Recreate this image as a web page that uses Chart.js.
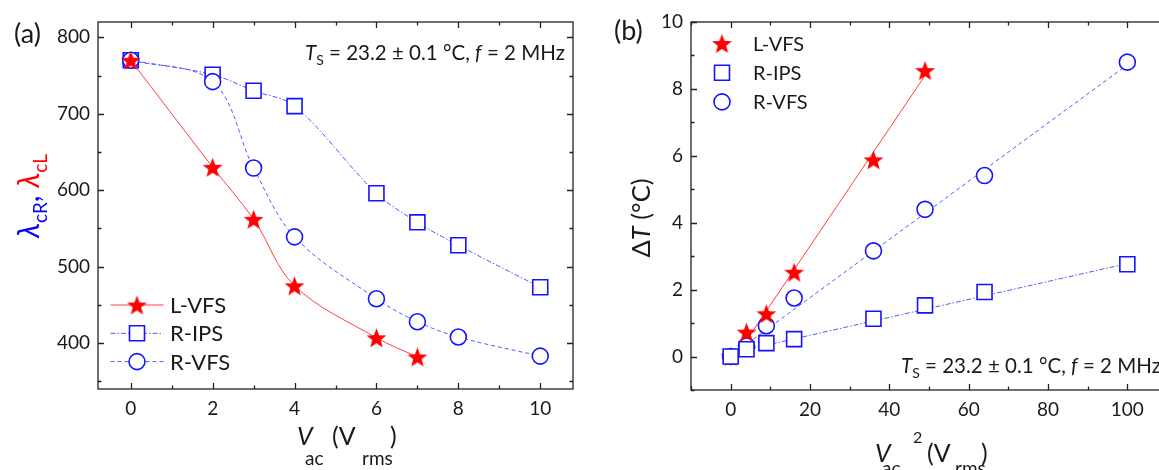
<!DOCTYPE html>
<html>
<head>
<meta charset="utf-8">
<script src="https://cdn.jsdelivr.net/npm/chart.js@4.4.1/dist/chart.umd.min.js"></script>
<style>
  html, body { margin: 0; padding: 0; background: #fff; overflow: hidden; }
  #wrap { position: relative; width: 1159px; height: 470px; overflow: hidden;
          font-family: Lato, "Open Sans", sans-serif; color: #1a1a1a; }
  canvas { position: absolute; top: 0; }
  #ca { left: 0; }
  #cb { left: 580px; }
  .t { position: absolute; white-space: nowrap; line-height: 1.2; }
  .t span, .t i { position: absolute; white-space: nowrap; line-height: 1.2; }
  .lo { position: relative; }
  .rt { position: absolute; white-space: nowrap; line-height: 1.2;
        transform: translate(-50%, -50%) rotate(-90deg); }
  .rt .lo { position: relative; }
</style>
</head>
<body>
<div id="wrap">
  <canvas id="ca" width="580" height="470"></canvas>
  <canvas id="cb" width="600" height="470"></canvas>

  <!-- panel tags -->
  <div style="position:absolute;left:14px;top:17px;font-size:27px;line-height:1.2">(a)</div>
  <div style="position:absolute;left:614px;top:14px;font-size:27px;line-height:1.2">(b)</div>

  <!-- measurement conditions -->
  <div style="position:absolute;left:305px;top:40px;font-size:20.5px;line-height:1.2;white-space:nowrap"><i>T</i><span class="lo" style="font-size:14px;top:5px">S</span> = 23.2 ± 0.1 °C, <i>f</i> = 2 MHz</div>
  <div style="position:absolute;left:901px;top:353px;font-size:20.5px;line-height:1.2;white-space:nowrap"><i>T</i><span class="lo" style="font-size:14px;top:5px">S</span> = 23.2 ± 0.1 °C, <i>f</i> = 2 MHz</div>

  <!-- x-axis titles -->
  <div class="t" style="left:0;top:0">
    <i style="left:297px;top:420px;font-size:25px">V</i><span style="left:305px;top:447px;font-size:19px">ac</span><span style="left:332px;top:420px;font-size:25px">(V</span><span style="left:362px;top:447px;font-size:19px">rms</span><span style="left:390px;top:420px;font-size:25px">)</span>
  </div>
  <div class="t" style="left:0;top:0">
    <i style="left:875px;top:437px;font-size:25px">V</i><span style="left:882px;top:457px;font-size:19px">ac</span><span style="left:913px;top:427px;font-size:16px">2</span><span style="left:927px;top:437px;font-size:25px">(V</span><span style="left:955px;top:457px;font-size:19px">rms</span><span style="left:981px;top:437px;font-size:25px">)</span>
  </div>

  <!-- y-axis titles -->
  <div class="rt" style="left:27px;top:196px;font-size:30px"><span style="color:#0000ff"><i>λ</i><span class="lo" style="font-size:19px;top:8px">cR</span>,</span> <span style="color:#ff0000"><i>λ</i><span class="lo" style="font-size:19px;top:8px">cL</span></span></div>
  <div class="rt" style="left:640px;top:218px;font-size:25.5px">Δ<i>T</i> (°C)</div>
</div>

<script>
// ---- panel (a): critical wavelength vs. applied voltage ----
const vacL = [0, 2, 3, 4, 6, 7];
const lambdaL_VFS = [770, 630, 562, 475, 407, 382];
const vacR = [0, 2, 3, 4, 6, 7, 8, 10];
const lambdaR_IPS = [770, 751, 730, 710, 596, 558, 528, 473];
const lambdaR_VFS = [770, 742, 629, 539, 458, 428, 408, 383];
const xTicksA = [0, 2, 4, 6, 8, 10];
const yTicksA = [400, 500, 600, 700, 800];
const rangeA = { xMin: -0.8, xMax: 10.8, yMin: 340, yMax: 820 };

// ---- panel (b): temperature rise vs. squared voltage ----
const vac2L = [0, 4, 9, 16, 36, 49];
const dT_L_VFS = [0, 0.73, 1.28, 2.52, 5.88, 8.55];
const vac2R = [0, 4, 9, 16, 36, 49, 64, 100];
const dT_R_IPS = [0, 0.22, 0.4, 0.52, 1.13, 1.53, 1.93, 2.76];
const dT_R_VFS = [0, 0.32, 0.92, 1.75, 3.16, 4.4, 5.41, 8.8];
// straight-line fits (end points)
const fitL_x = [0, 49];
const fitL_y = [-0.22, 8.4];
const fitR_x = [0, 100];
const fitIPS_y = [0.1, 2.78];
const fitVFS_y = [0.02, 8.72];
const xTicksB = [0, 20, 40, 60, 80, 100];
const yTicksB = [0, 2, 4, 6, 8, 10];
const rangeB = { xMin: -10, xMax: 110, yMin: -1, yMax: 10 };

const seriesNames = ['L-VFS', 'R-IPS', 'R-VFS'];

const RED = '#ff0000', BLUE = '#1414ff';
const LINE_RED = '#ff4040', LINE_BLUE = '#5858ff';
const INK = '#1a1a1a';
const FONT = 'Lato, "Open Sans", sans-serif';

Chart.defaults.font.family = FONT;

function pts(xs, ys) { return xs.map((x, i) => ({ x, y: ys[i] })); }

// filled five-pointed star used as a point style
function makeStar(R, color) {
  const s = Math.ceil(2 * R + 2);
  const c = document.createElement('canvas');
  c.width = s; c.height = s;
  const g = c.getContext('2d');
  g.fillStyle = color;
  g.beginPath();
  for (let i = 0; i < 10; i++) {
    const r = i % 2 ? R * 0.42 : R;
    const a = -Math.PI / 2 + i * Math.PI / 5;
    g.lineTo(s / 2 + r * Math.cos(a), s / 2 + 1 + r * Math.sin(a));
  }
  g.closePath();
  g.fill();
  return c;
}
const star = makeStar(10.5, RED);

function drawMarker(ctx, ds, x, y) {
  const st = ds.pointStyle, r = ds.pointRadius;
  if (typeof st !== 'string') { ctx.drawImage(st, x - st.width / 2, y - st.height / 2); return; }
  ctx.lineWidth = ds.pointBorderWidth;
  ctx.strokeStyle = ds.pointBorderColor;
  ctx.fillStyle = ds.pointBackgroundColor;
  ctx.beginPath();
  if (st === 'rect') { const h = r * Math.SQRT1_2; ctx.rect(x - h, y - h, 2 * h, 2 * h); }
  else ctx.arc(x, y, r, 0, Math.PI * 2);
  ctx.fill();
  ctx.stroke();
}

// closed frame with inward major/minor ticks on all four sides
const frameTicks = {
  id: 'frameTicks',
  beforeDatasetsDraw(chart, args, o) {
    const { ctx, chartArea: a, scales } = chart;
    ctx.save();
    ctx.strokeStyle = o.color;
    ctx.lineWidth = o.width;
    ctx.strokeRect(a.left, a.top, a.right - a.left, a.bottom - a.top);
    const axis = (scale, horiz) => {
      const vals = scale.ticks.map(t => t.value);
      const step = vals[1] - vals[0];
      const minors = [];
      for (let v = vals[0] - step / 2; v <= scale.max + 1e-9; v += step) {
        if (v >= scale.min - 1e-9) minors.push(v);
      }
      const mark = (v, len) => {
        const p = Math.round(scale.getPixelForValue(v)) + 0.5;
        ctx.beginPath();
        if (horiz) {
          ctx.moveTo(p, a.bottom); ctx.lineTo(p, a.bottom - len);
          ctx.moveTo(p, a.top); ctx.lineTo(p, a.top + len);
        } else {
          ctx.moveTo(a.left, p); ctx.lineTo(a.left + len, p);
          ctx.moveTo(a.right, p); ctx.lineTo(a.right - len, p);
        }
        ctx.stroke();
      };
      vals.forEach(v => mark(v, o.major));
      minors.forEach(v => mark(v, o.minor));
    };
    axis(scales.x, true);
    axis(scales.y, false);
    ctx.restore();
  }
};

// legend drawn inside the plotting area
const insetLegend = {
  id: 'insetLegend',
  afterDatasetsDraw(chart, args, o) {
    const ctx = chart.ctx;
    ctx.save();
    let row = 0;
    chart.data.datasets.forEach(ds => {
      if (ds.inLegend === false) return;
      const y = o.y + row * o.rowGap;
      if (o.lineHalf) {
        ctx.strokeStyle = ds.borderColor;
        ctx.lineWidth = ds.borderWidth;
        ctx.setLineDash(ds.borderDash || []);
        ctx.beginPath();
        ctx.moveTo(o.x - o.lineHalf, y);
        ctx.lineTo(o.x + o.lineHalf, y);
        ctx.stroke();
        ctx.setLineDash([]);
      }
      drawMarker(ctx, ds, o.x, y);
      ctx.fillStyle = o.color;
      ctx.font = o.font;
      ctx.textBaseline = 'alphabetic';
      ctx.fillText(ds.label, o.textX, y + o.capHalf);
      row++;
    });
    ctx.restore();
  }
};

function scaleCfg(min, max, tickVals, size, horiz) {
  return {
    type: 'linear',
    min, max,
    afterFit: s => {
      if (horiz) { s.height = size; s.paddingLeft = 0; s.paddingRight = 0; }
      else { s.width = size; s.paddingTop = 0; s.paddingBottom = 0; }
    },
    afterBuildTicks: s => { s.ticks = tickVals.map(v => ({ value: v })); },
    grid: { display: false, drawTicks: false },
    border: { display: false },
    ticks: { padding: 8, color: INK, font: { family: FONT, size: 19 } }
  };
}

// nudge layout padding until the plotting area sits where wanted
function pinArea(chart, want) {
  for (let k = 0; k < 3; k++) {
    const a = chart.chartArea, p = chart.config.options.layout.padding;
    p.left += want.left - a.left;
    p.top += want.top - a.top;
    p.right += a.right - want.right;
    p.bottom += a.bottom - want.bottom;
    chart.update();
  }
}

const squareStyle = { pointStyle: 'rect', pointRadius: 10.6, pointBorderWidth: 1.6,
                      pointBorderColor: BLUE, pointBackgroundColor: '#ffffff' };
const circleStyle = { pointStyle: 'circle', pointRadius: 8, pointBorderWidth: 1.6,
                      pointBorderColor: BLUE, pointBackgroundColor: '#ffffff' };
const starStyle = { pointStyle: star, pointRadius: 10, pointBorderColor: RED, pointBackgroundColor: RED };

// ---- chart (a) ----
const chartA = new Chart(document.getElementById('ca'), {
  type: 'scatter',
  data: {
    datasets: [
      Object.assign({ label: seriesNames[0], data: pts(vacL, lambdaL_VFS), showLine: true,
        borderColor: LINE_RED, borderWidth: 1, tension: 0.35, order: 0 }, starStyle),
      Object.assign({ label: seriesNames[1], data: pts(vacR, lambdaR_IPS), showLine: true,
        borderColor: LINE_BLUE, borderWidth: 1, borderDash: [5, 2, 1.5, 2], tension: 0.35, order: 2 }, squareStyle),
      Object.assign({ label: seriesNames[2], data: pts(vacR, lambdaR_VFS), showLine: true,
        borderColor: LINE_BLUE, borderWidth: 1, borderDash: [4, 3], tension: 0.35, order: 1 }, circleStyle)
    ]
  },
  options: {
    responsive: false, animation: false, events: [],
    layout: { autoPadding: false, padding: { left: 0, top: 22, right: 7, bottom: 0 } },
    scales: {
      x: scaleCfg(rangeA.xMin, rangeA.xMax, xTicksA, 81, true),
      y: scaleCfg(rangeA.yMin, rangeA.yMax, yTicksA, 98, false)
    },
    plugins: {
      legend: { display: false }, tooltip: { enabled: false },
      frameTicks: { color: '#222', width: 1.3, major: 6, minor: 3.5 },
      insetLegend: { x: 137, y: 305, rowGap: 28.3, lineHalf: 26.5, textX: 170,
                     font: '22px ' + FONT, color: INK, capHalf: 7.9 }
    }
  },
  plugins: [frameTicks, insetLegend]
});
pinArea(chartA, { left: 98, top: 22, right: 573, bottom: 389 });

// ---- chart (b) ----
const chartB = new Chart(document.getElementById('cb'), {
  type: 'scatter',
  data: {
    datasets: [
      Object.assign({ label: seriesNames[0], data: pts(vac2L, dT_L_VFS), order: 1 }, starStyle),
      Object.assign({ label: seriesNames[1], data: pts(vac2R, dT_R_IPS), order: 0 }, squareStyle),
      Object.assign({ label: seriesNames[2], data: pts(vac2R, dT_R_VFS), order: 2 }, circleStyle),
      { inLegend: false, data: pts(fitL_x, fitL_y), showLine: true, pointRadius: 0,
        borderColor: LINE_RED, borderWidth: 1, order: 5 },
      { inLegend: false, data: pts(fitR_x, fitIPS_y), showLine: true, pointRadius: 0,
        borderColor: LINE_BLUE, borderWidth: 1, borderDash: [5, 2, 1.5, 2], order: 5 },
      { inLegend: false, data: pts(fitR_x, fitVFS_y), showLine: true, pointRadius: 0,
        borderColor: LINE_BLUE, borderWidth: 1, borderDash: [4, 3], order: 5 }
    ]
  },
  options: {
    responsive: false, animation: false, events: [],
    layout: { autoPadding: false, padding: { left: 0, top: 22, right: 13, bottom: 0 } },
    scales: {
      x: scaleCfg(rangeB.xMin, rangeB.xMax, xTicksB, 80, true),
      y: scaleCfg(rangeB.yMin, rangeB.yMax, yTicksB, 111, false)
    },
    plugins: {
      legend: { display: false }, tooltip: { enabled: false },
      frameTicks: { color: '#222', width: 1.3, major: 6, minor: 3.5 },
      insetLegend: { x: 142, y: 43.5, rowGap: 29.2, lineHalf: 0, textX: 173,
                     font: '20px ' + FONT, color: INK, capHalf: 7.2 }
    }
  },
  plugins: [frameTicks, insetLegend]
});
pinArea(chartB, { left: 111, top: 22, right: 587, bottom: 390 });
</script>
</body>
</html>
